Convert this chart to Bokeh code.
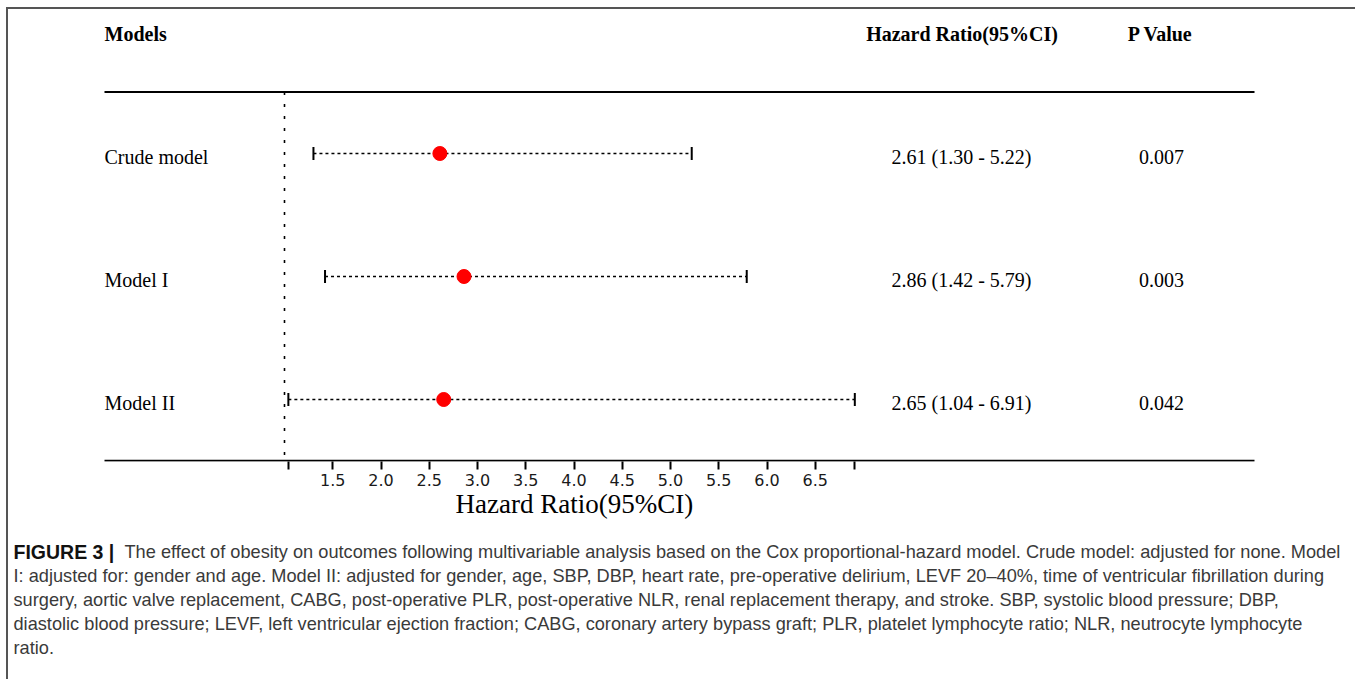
from bokeh.plotting import figure
from bokeh.models import Range1d, LinearAxis, FixedTicker, PrintfTickFormatter, Title
from bokeh.layouts import column
from bokeh.core.properties import value
from bokeh.embed import file_html
from bokeh.resources import INLINE
import math

# ---------------- data ----------------
models = ["Crude model", "Model I", "Model II"]
hazard_ratio = [2.61, 2.86, 2.65]
ci_lower = [1.30, 1.42, 1.04]
ci_upper = [5.22, 5.79, 6.91]
p_values = ["0.007", "0.003", "0.042"]
headers = ["Models", "Hazard Ratio(95%CI)", "P Value"]
axis_ticks = [1.5, 2.0, 2.5, 3.0, 3.5, 4.0, 4.5, 5.0, 5.5, 6.0, 6.5]
axis_end_ticks = [1.04, 6.91]
axis_title = "Hazard Ratio(95%CI)"
caption_bold = "FIGURE 3 |"
caption_lines = [
    "The effect of obesity on outcomes following multivariable analysis based on the Cox proportional-hazard model. Crude model: adjusted for none. Model",
    "I: adjusted for: gender and age. Model II: adjusted for gender, age, SBP, DBP, heart rate, pre-operative delirium, LEVF 20\u201340%, time of ventricular fibrillation during",
    "surgery, aortic valve replacement, CABG, post-operative PLR, post-operative NLR, renal replacement therapy, and stroke. SBP, systolic blood pressure; DBP,",
    "diastolic blood pressure; LEVF, left ventricular ejection fraction; CABG, coronary artery bypass graft; PLR, platelet lymphocyte ratio; NLR, neutrocyte lymphocyte",
    "ratio.",
]

hr_text = [f"{h:.2f} ({l:.2f} - {u:.2f})" for h, l, u in zip(hazard_ratio, ci_lower, ci_upper)]
rows = list(range(len(models)))

# ---------------- layout constants (page pixels) ----------------
ORG_X, ORG_Y = 8, 9
PAGE_W, PAGE_H = 1355, 679
W = PAGE_W - ORG_X
X_ONE, PX_PER_UNIT = 284.0, 96.5
ROW0_Y, ROW_STEP = 153.0, 123.0
AXIS_Y = 461.0
TOP_H = 521

SERIF = value("Liberation Serif")

def row_at(page_y):
    return (page_y - ROW0_Y) / ROW_STEP

p = figure(
    width=W, height=TOP_H,
    x_range=Range1d(1 + (ORG_X - X_ONE) / PX_PER_UNIT, 1 + (PAGE_W - X_ONE) / PX_PER_UNIT),
    y_range=Range1d(row_at(AXIS_Y), row_at(ORG_Y)),
    x_axis_location=None, y_axis_location=None,
    toolbar_location=None, output_backend="svg",
    min_border_left=0, min_border_right=0, min_border_top=0,
    min_border_bottom=TOP_H - int(AXIS_Y - ORG_Y),
    outline_line_color=None,
)
p.extra_x_ranges = {"px": Range1d(ORG_X, PAGE_W)}
p.xgrid.visible = False
p.ygrid.visible = False

# horizontal rules
p.segment(x0=[104, 104], x1=[1254, 1254], y0=[-0.5, 2.497], y1=[-0.5, 2.497],
          x_range_name="px", line_color="black", line_width=2)
# reference line at HR = 1
p.segment(x0=[1], x1=[1], y0=[-0.5], y1=[2.5], line_color="black",
          line_width=1.6, line_dash="3 9")

# CI whiskers
p.segment(x0=ci_lower, x1=ci_upper, y0=rows, y1=rows, line_color="black",
          line_width=1.4, line_dash="3 3")
p.scatter(x=ci_lower + ci_upper, y=rows + rows, marker="dash", angle=math.pi / 2,
          size=13, line_color="black", line_width=2)
p.scatter(x=hazard_ratio, y=rows, size=14, fill_color="#ff0000", line_color="#ff0000")

# table text
p.text(x=[104], y=[-1], text=[headers[0]], x_range_name="px", text_font=SERIF,
       text_font_size="20px", text_font_style="bold", text_baseline="middle",
       text_align="left", y_offset=3, text_color="black")
p.text(x=[961.5, 1160], y=[-1, -1], text=headers[1:], x_range_name="px", text_font=SERIF,
       text_font_size="20px", text_font_style="bold", text_baseline="middle",
       text_align="center", y_offset=3, text_color="black")
p.text(x=[104] * 3, y=rows, text=models, x_range_name="px", text_font=SERIF,
       text_font_size="20px", text_baseline="middle", text_align="left", y_offset=3,
       text_color="black")
p.text(x=[961] * 3, y=rows, text=hr_text, x_range_name="px", text_font=SERIF,
       text_font_size="20px", text_baseline="middle", text_align="center", y_offset=3,
       text_color="black")
p.text(x=[1161] * 3, y=rows, text=p_values, x_range_name="px", text_font=SERIF,
       text_font_size="20px", text_baseline="middle", text_align="center", y_offset=3,
       text_color="black")

ax = LinearAxis(
    ticker=FixedTicker(ticks=axis_ticks, minor_ticks=axis_end_ticks),
    formatter=PrintfTickFormatter(format="%.1f"),
    bounds=(axis_end_ticks[0], axis_end_ticks[-1]),
    axis_line_color=None,
    major_tick_in=0, major_tick_out=8, major_tick_line_width=2, major_tick_line_color="black",
    minor_tick_in=0, minor_tick_out=8, minor_tick_line_width=2, minor_tick_line_color="black",
    major_label_standoff=4,
    major_label_text_font="DejaVu Sans", major_label_text_font_size="16px",
    major_label_text_color="#1a1a1a",
)
p.add_layout(ax, "below")
# axis title, centred under the tick span (455 px from page left)
p.add_layout(Title(text=axis_title, align="left", offset=455 - ORG_X, standoff=-3,
                   text_font="Liberation Serif", text_font_size="27px",
                   text_font_style="normal", text_color="black"), "below")

# caption figure
cap_top = ORG_Y + TOP_H
c = figure(
    width=W, height=PAGE_H - cap_top,
    x_range=Range1d(ORG_X, PAGE_W), y_range=Range1d(PAGE_H, cap_top),
    x_axis_location=None, y_axis_location=None,
    toolbar_location=None, output_backend="svg",
    min_border=0, outline_line_color=None,
)
c.xgrid.visible = False
c.ygrid.visible = False
CAP_FONT = value("Liberation Sans")
line_y = [551 + 24 * i for i in range(len(caption_lines))]
c.text(x=[13], y=[line_y[0]], text=[caption_bold], text_font=CAP_FONT,
       text_font_size="19.5px", text_font_style="bold", text_baseline="middle",
       text_color="#111111")
c.text(x=[124] + [13] * (len(caption_lines) - 1), y=line_y, text=caption_lines,
       text_font=CAP_FONT, text_font_size="18.2px", text_baseline="middle",
       text_color="#3a3a3a")

layout = column(p, c, styles={
    "margin-left": "6px", "margin-top": "7px",
    "border-left": "2px solid #555555", "border-top": "2px solid #555555",
})

open("out.html", "w").write(file_html(layout, INLINE))
